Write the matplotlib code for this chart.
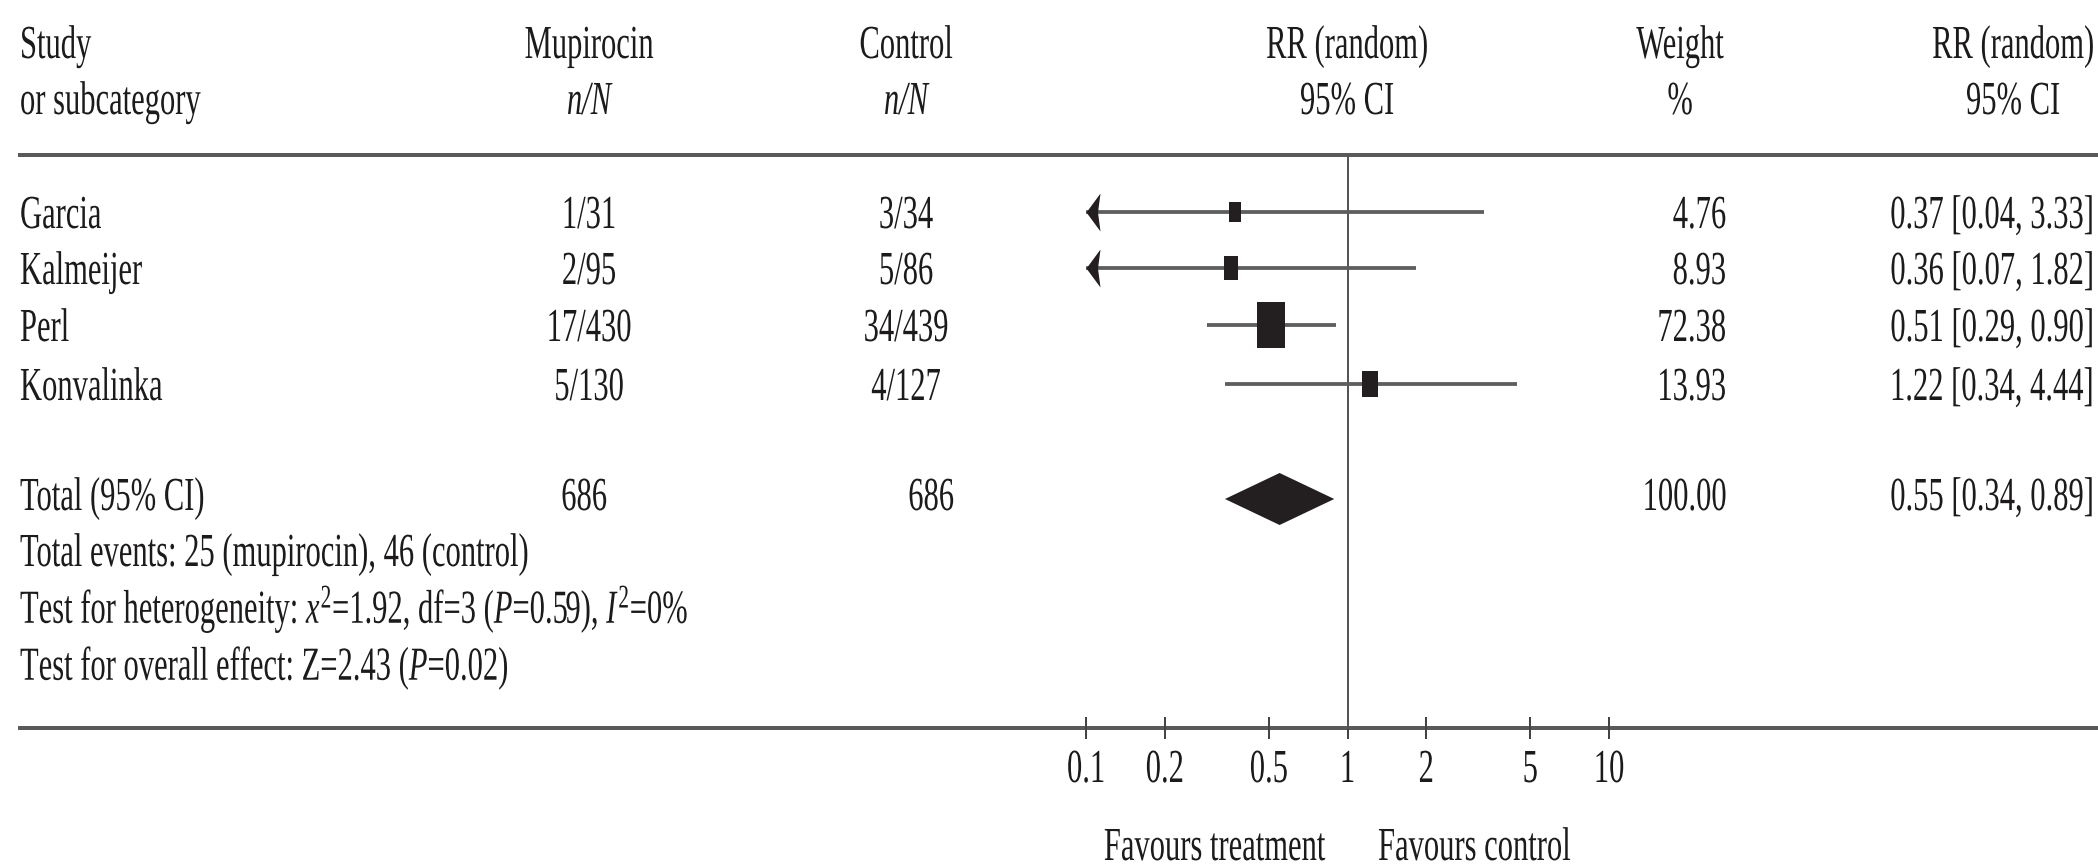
import matplotlib
matplotlib.use('Agg')
import matplotlib.pyplot as plt
import matplotlib.patheffects as pe
from matplotlib.path import Path
from matplotlib.transforms import Affine2D

# ---------------- data ----------------
studies = ['Garcia', 'Kalmeijer', 'Perl', 'Konvalinka']
mup_events = [1, 2, 17, 5]
mup_total = [31, 95, 430, 130]
ctl_events = [3, 5, 34, 4]
ctl_total = [34, 86, 439, 127]
weight_pct = [4.76, 8.93, 72.38, 13.93]
rr = [0.37, 0.36, 0.51, 1.22]
rr_low = [0.04, 0.07, 0.29, 0.34]
rr_high = [3.33, 1.82, 0.90, 4.44]
pooled_rr = 0.55
pooled_low = 0.34
pooled_high = 0.89
pooled_weight = 100.00
heterogeneity_text = ('Test for heterogeneity: $\\mathit{x}^{2}$=1.92, df=3 '
                      '($\\mathit{P}$=0.59), $\\mathit{I}^{2}$=0%')
overall_text = 'Test for overall effect: Z=2.43 ($\\mathit{P}$=0.02)'
axis_ticks = [0.1, 0.2, 0.5, 1, 2, 5, 10]
x_limits = (0.1, 10)

# ---------------- style ----------------
plt.rcParams['font.family'] = ['Liberation Serif', 'DejaVu Serif']
plt.rcParams['mathtext.fontset'] = 'custom'
plt.rcParams['mathtext.rm'] = 'Liberation Serif'
plt.rcParams['mathtext.it'] = 'Liberation Serif:italic'
plt.rcParams['mathtext.bf'] = 'Liberation Serif:bold'

W, H = 2098, 864
PT = 0.72          # points per pixel at dpi 100
FS = 22
TXT = '#1c1a1b'
MARK = '#231f20'
LINE = '#5a5a5a'


class TallText(pe.AbstractPathEffect):
    """Draw glyphs stretched vertically about their baseline (narrow typeface look)."""

    def __init__(self, sy):
        super().__init__()
        self.sy = sy

    def draw_path(self, renderer, gc, tpath, affine, rgbFace=None):
        y0 = affine.transform([[0.0, 0.0]])[0][1]
        stretch = Affine2D().translate(0, -y0).scale(1, self.sy).translate(0, y0)
        renderer.draw_path(gc, tpath, affine + stretch, rgbFace)


TALL = [TallText(1.55)]

fig = plt.figure(figsize=(W / 100, H / 100), dpi=100)
bg = fig.add_axes([0, 0, 1, 1])
bg.set_xlim(0, W)
bg.set_ylim(H, 0)
bg.axis('off')

# layout (pixel positions of text baselines)
head_y = [58, 114]
row_y = [212, 268, 325, 384]          # marker centres
row_base = [228, 284, 341, 400]       # text baselines
total_y = 499
total_base = 510
events_base, het_base, ovr_base = 566, 623, 680
tick_base = 782
fav_base = 860
rule_top, rule_bot = 155, 728
x_study, x_mup, x_ctl = 20, 589, 906
x_rr = 1347
x_wt_c, x_wt_r = 1680, 1726
x_ci_c, x_ci_r = 2013, 2093
fx0, fx1 = 1086, 1609


def txt(axis, x, y, s, ha='left', style='normal'):
    t = axis.text(x, y, s, ha=ha, va='baseline', fontsize=FS, color=TXT,
                  fontstyle=style)
    t.set_path_effects(TALL)
    return t


# headers
txt(bg, x_study, head_y[0], 'Study')
txt(bg, x_study, head_y[1], 'or subcategory')
txt(bg, x_mup, head_y[0], 'Mupirocin', 'center')
txt(bg, x_mup, head_y[1], 'n/N', 'center', 'italic')
txt(bg, x_ctl, head_y[0], 'Control', 'center')
txt(bg, x_ctl, head_y[1], 'n/N', 'center', 'italic')
txt(bg, x_rr, head_y[0], 'RR (random)', 'center')
txt(bg, x_rr, head_y[1], '95% CI', 'center')
txt(bg, x_wt_c, head_y[0], 'Weight', 'center')
txt(bg, x_wt_c, head_y[1], '%', 'center')
txt(bg, x_ci_c, head_y[0], 'RR (random)', 'center')
txt(bg, x_ci_c, head_y[1], '95% CI', 'center')

# rules
bg.plot([18, W], [rule_top, rule_top], color=LINE, lw=4 * PT, solid_capstyle='butt')
bg.plot([18, W], [rule_bot, rule_bot], color=LINE, lw=4 * PT, solid_capstyle='butt')

# study rows
for i, name in enumerate(studies):
    y = row_base[i]
    txt(bg, x_study, y, name)
    txt(bg, x_mup, y, f'{mup_events[i]}/{mup_total[i]}', 'center')
    txt(bg, x_ctl, y, f'{ctl_events[i]}/{ctl_total[i]}', 'center')
    txt(bg, x_wt_r, y, f'{weight_pct[i]:.2f}', 'right')
    txt(bg, x_ci_r, y, f'{rr[i]:.2f} [{rr_low[i]:.2f}, {rr_high[i]:.2f}]', 'right')

# totals
txt(bg, x_study, total_base, 'Total (95% CI)')
txt(bg, x_mup - 5, total_base, f'{sum(mup_total)}', 'center')
txt(bg, x_ctl + 25, total_base, f'{sum(ctl_total)}', 'center')
txt(bg, x_wt_r, total_base, f'{pooled_weight:.2f}', 'right')
txt(bg, x_ci_r, total_base, f'{pooled_rr:.2f} [{pooled_low:.2f}, {pooled_high:.2f}]', 'right')
txt(bg, x_study, events_base,
    f'Total events: {sum(mup_events)} (mupirocin), {sum(ctl_events)} (control)')
txt(bg, x_study, het_base, heterogeneity_text)
txt(bg, x_study, ovr_base, overall_text)

# ---------------- forest panel ----------------
ax = fig.add_axes([fx0 / W, 0, (fx1 - fx0) / W, 1])
ax.patch.set_visible(False)
ax.set_xscale('log')
ax.set_xlim(*x_limits)
ax.set_ylim(H, 0)
for s in ['left', 'right', 'top']:
    ax.spines[s].set_visible(False)
ax.spines['bottom'].set_position(('data', rule_bot))
ax.spines['bottom'].set_color('none')
ax.set_yticks([])
ax.set_xticks(axis_ticks)
ax.minorticks_off()
ax.tick_params(axis='x', direction='inout', length=22 * PT, width=2 * PT,
               color='#444444', labelbottom=False)
for t in axis_ticks:
    txt(ax, t, tick_base, f'{t:g}', 'center')

# line of no effect
ax.plot([1, 1], [rule_top, rule_bot], color='#555555', lw=2 * PT)

box_shape = Path([(-0.3, -0.5), (0.3, -0.5), (0.3, 0.5), (-0.3, 0.5), (-0.3, -0.5)],
                 [Path.MOVETO, Path.LINETO, Path.LINETO, Path.LINETO, Path.CLOSEPOLY])
arrow_shape = Path([(0, 0), (14, 19), (11.5, 0), (14, -19), (0, 0)],
                   [Path.MOVETO, Path.LINETO, Path.LINETO, Path.LINETO, Path.CLOSEPOLY])

xmin, xmax = x_limits
for i in range(len(studies)):
    y = row_y[i]
    lo = max(rr_low[i], xmin)
    hi = min(rr_high[i], xmax)
    ax.plot([lo, hi], [y, y], color='#5e5e5e', lw=3.8 * PT, solid_capstyle='butt', zorder=2)
    if rr_low[i] < xmin:
        ax.plot([xmin], [y], marker=arrow_shape, markersize=38 * PT, color=MARK,
                markeredgewidth=0, clip_on=False, zorder=3)
    h = 12 + 4 * weight_pct[i] ** 0.5
    ax.plot([rr[i]], [y], marker=box_shape, markersize=h * PT, color=MARK,
            markeredgewidth=0, zorder=4)

# pooled diamond
dh = 26
ax.fill([pooled_low, pooled_rr, pooled_high, pooled_rr],
        [total_y, total_y - dh, total_y, total_y + dh], color=MARK, lw=0, zorder=4)

# favours labels
txt(ax, 1, fav_base, 'Favours treatment   ', 'right')
txt(ax, 1, fav_base, '    Favours control', 'left')

fig.savefig('out.png', dpi=100)
